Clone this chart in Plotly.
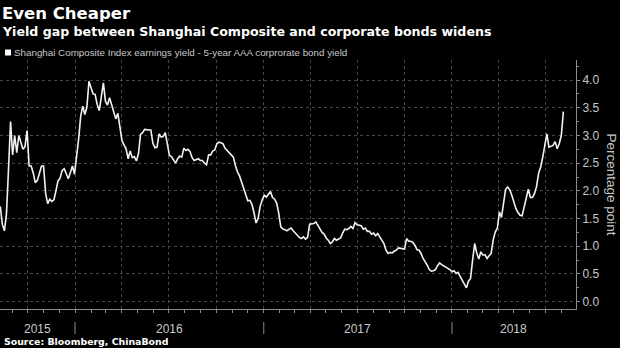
import pandas as pd
import plotly.graph_objects as go

# Shanghai Composite earnings yield minus 5-year AAA corporate bond yield (percentage points),
# one observation every four days from August 2015
gap = [
    1.72, 1.40, 1.28, 1.58, 2.39, 3.25, 2.65, 3.00, 2.69, 3.00,
    2.88, 2.75, 2.80, 3.09, 2.45, 2.45, 2.32, 2.15, 2.19, 2.33,
    2.45, 2.45, 1.95, 1.77, 1.85, 1.81, 1.84, 2.00, 2.18, 2.23,
    2.37, 2.40, 2.29, 2.22, 2.33, 2.45, 2.30, 2.60, 2.94, 3.35,
    3.53, 3.38, 3.51, 3.98, 3.88, 3.75, 3.74, 3.56, 3.45, 3.70,
    3.95, 3.62, 3.55, 3.68, 3.56, 3.40, 3.30, 3.40, 3.18, 2.91,
    2.83, 2.76, 2.58, 2.72, 2.60, 2.62, 2.54, 2.67, 3.02, 3.05,
    3.11, 3.10, 3.10, 3.10, 2.86, 2.78, 2.79, 3.03, 2.97, 2.98,
    3.05, 2.85, 2.64, 2.62, 2.55, 2.50, 2.58, 2.63, 2.61, 2.77,
    2.73, 2.75, 2.71, 2.60, 2.55, 2.56, 2.58, 2.55, 2.55, 2.50,
    2.47, 2.65, 2.65, 2.72, 2.74, 2.85, 2.88, 2.87, 2.85, 2.77,
    2.73, 2.69, 2.65, 2.61, 2.46, 2.34, 2.27, 2.16, 2.06, 1.94,
    1.82, 1.83, 1.76, 1.61, 1.42, 1.50, 1.72, 1.84, 1.92, 1.89,
    1.94, 1.99, 1.88, 1.85, 1.78, 1.60, 1.35, 1.31, 1.30, 1.28,
    1.31, 1.33, 1.28, 1.24, 1.20, 1.16, 1.14, 1.17, 1.13, 1.16,
    1.40, 1.41, 1.41, 1.44, 1.38, 1.30, 1.25, 1.22, 1.15, 1.11,
    1.05, 1.08, 1.14, 1.11, 1.13, 1.15, 1.24, 1.31, 1.30, 1.32,
    1.36, 1.32, 1.43, 1.39, 1.38, 1.37, 1.31, 1.33, 1.27, 1.27,
    1.22, 1.24, 1.19, 1.23, 1.17, 1.12, 1.05, 0.93, 0.87, 0.89,
    0.88, 0.91, 0.93, 0.97, 0.96, 0.95, 0.95, 1.14, 1.09, 1.09,
    1.07, 1.02, 0.94, 0.93, 0.87, 0.78, 0.73, 0.66, 0.58, 0.55,
    0.56, 0.58, 0.65, 0.70, 0.67, 0.65, 0.62, 0.61, 0.58, 0.54,
    0.56, 0.51, 0.53, 0.45, 0.38, 0.30, 0.25, 0.37, 0.42, 0.75,
    1.05, 0.88, 0.77, 0.90, 0.84, 0.85, 0.78, 0.83, 0.87, 1.12,
    1.26, 1.33, 1.62, 1.52, 1.77, 2.03, 2.07, 2.02, 1.92, 1.80,
    1.68, 1.61, 1.56, 1.55, 1.70, 1.88, 2.03, 1.88, 1.88, 1.95,
    2.08, 2.32, 2.43, 2.61, 2.84, 3.03, 2.79, 2.80, 2.82, 2.89,
    2.76, 2.85, 3.00, 3.43,
]
dates = pd.date_range("2015-08-09", periods=len(gap), freq="4D")

x_start = pd.Timestamp("2015-08-08 12:00")
x_end = pd.Timestamp("2018-08-29 12:00")
years = [2015, 2016, 2017, 2018]

W, H = 620, 348
M_L, M_R, M_T, M_B = 0, 44, 60, 39
plot_w = W - M_L - M_R
plot_h = H - M_T - M_B


def py(y_px):
    """Paper y for a pixel row measured from the top of the page."""
    return (H - M_B - y_px) / plot_h


def px(x_px):
    return (x_px - M_L) / plot_w


GRID = "#474747"
AXIS = "#8c8c8c"
TICK_TXT = "#c8c8c8"
FONT = "Liberation Sans, Arial, sans-serif"
HEAD = "DejaVu Sans, Verdana, sans-serif"

fig = go.Figure(
    go.Scatter(
        x=dates,
        y=gap,
        mode="lines",
        line=dict(color="#f2f2f2", width=1.6),
        hoverinfo="skip",
    )
)

shapes = []
annotations = []

# year separators and centred year labels below the axis
for yr in years:
    y0 = max(pd.Timestamp(f"{yr}-01-01"), x_start)
    y1 = min(pd.Timestamp(f"{yr + 1}-01-01"), x_end)
    mid = y0 + (y1 - y0) / 2
    annotations.append(dict(
        x=mid, y=py(328.5), xref="x", yref="paper", text=str(yr),
        showarrow=False, xanchor="center", yanchor="middle",
        font=dict(family=FONT, size=12, color=TICK_TXT),
    ))
    if yr > years[0]:
        shapes.append(dict(
            type="line", xref="x", yref="paper",
            x0=pd.Timestamp(f"{yr}-01-01"), x1=pd.Timestamp(f"{yr}-01-01"),
            y0=py(322), y1=py(334),
            line=dict(color=AXIS, width=1),
        ))

# legend key
shapes.append(dict(
    type="rect", xref="paper", yref="paper",
    x0=px(5), x1=px(11), y0=py(55.5), y1=py(49.5),
    fillcolor="#ffffff", line=dict(width=0),
))

annotations += [
    dict(x=px(0), y=py(14), xref="paper", yref="paper", text="<b>Even Cheaper</b>",
         showarrow=False, xanchor="left", yanchor="middle",
         font=dict(family=HEAD, size=16.5, color="#ffffff")),
    dict(x=px(0), y=py(31), xref="paper", yref="paper",
         text="<b>Yield gap between Shanghai Composite and corporate bonds widens</b>",
         showarrow=False, xanchor="left", yanchor="middle",
         font=dict(family=HEAD, size=12.6, color="#ffffff")),
    dict(x=px(12), y=py(52.5), xref="paper", yref="paper",
         text="Shanghai Composite Index earnings yield - 5-year AAA corprorate bond yield",
         showarrow=False, xanchor="left", yanchor="middle",
         font=dict(family=FONT, size=9.8, color=TICK_TXT)),
    dict(x=px(2), y=py(341.5), xref="paper", yref="paper",
         text="<b>Source: Bloomberg, ChinaBond</b>",
         showarrow=False, xanchor="left", yanchor="middle",
         font=dict(family=HEAD, size=9.4, color="#ffffff")),
    dict(x=px(611), y=0.5, xref="paper", yref="paper", text="Percentage point",
         showarrow=False, xanchor="center", yanchor="middle", textangle=90,
         font=dict(family=FONT, size=13.5, color=TICK_TXT)),
]

fig.update_layout(
    width=W, height=H,
    margin=dict(l=M_L, r=M_R, t=M_T, b=M_B, pad=0),
    paper_bgcolor="#000000",
    plot_bgcolor="#000000",
    showlegend=False,
    shapes=shapes,
    annotations=annotations,
    xaxis=dict(
        type="date",
        range=[x_start, x_end],
        showgrid=True, gridcolor=GRID, griddash="dot", gridwidth=1,
        dtick="M3", tick0="2015-01-01",
        ticks="outside", ticklen=3, tickcolor=AXIS,
        showticklabels=False,
        showline=True, linecolor=AXIS, linewidth=1,
        zeroline=False,
        minor=dict(dtick="M1", tick0="2015-01-01", ticks="outside",
                   ticklen=3, tickcolor=AXIS, showgrid=False),
    ),
    yaxis=dict(
        side="right",
        range=[-0.132, 4.363],
        dtick=0.5, tick0=0, tickformat=".1f",
        showgrid=True, gridcolor=GRID, griddash="dot", gridwidth=1,
        ticks="outside", ticklen=3, tickcolor=AXIS,
        showline=True, linecolor=AXIS, linewidth=1,
        zeroline=False,
        tickfont=dict(family=FONT, size=12, color=TICK_TXT),
        minor=dict(dtick=0.25, ticks="outside", ticklen=2,
                   tickcolor=AXIS, showgrid=False),
    ),
)

fig.write_html("out.html")
